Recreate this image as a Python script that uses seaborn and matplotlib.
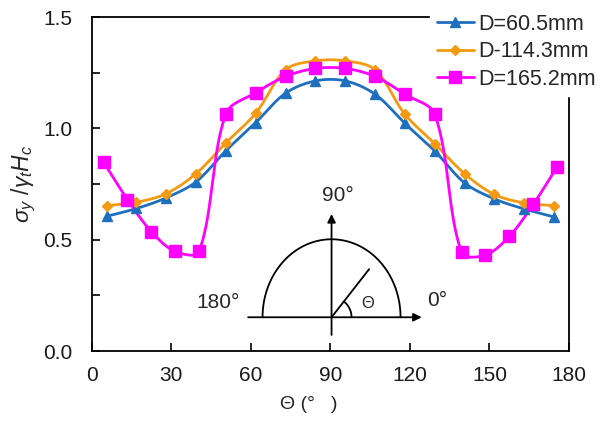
import numpy as np
import pandas as pd
import seaborn as sns
import matplotlib
matplotlib.use("Agg")
import matplotlib.pyplot as plt
from matplotlib.lines import Line2D

# ---------------- data ----------------
theta_a = [5.625, 16.875, 28.125, 39.375, 50.625, 61.875, 73.125, 84.375,
           95.625, 106.875, 118.125, 129.375, 140.625, 151.875, 163.125, 174.375]
d60 = [0.605, 0.640, 0.688, 0.760, 0.900, 1.026, 1.158, 1.213,
       1.213, 1.153, 1.022, 0.898, 0.755, 0.683, 0.638, 0.602]
d114 = [0.653, 0.668, 0.707, 0.797, 0.935, 1.068, 1.263, 1.303,
        1.303, 1.263, 1.063, 0.931, 0.796, 0.703, 0.665, 0.653]
theta_b = [4.5, 13.5, 22.5, 31.5, 40.5, 50.625, 61.875, 73.125, 84.375,
           95.625, 106.875, 118.125, 129.375, 139.5, 148.5, 157.5, 166.5, 175.5]
d165 = [0.848, 0.680, 0.536, 0.447, 0.447, 1.066, 1.160, 1.233, 1.269,
        1.269, 1.233, 1.153, 1.063, 0.443, 0.431, 0.515, 0.658, 0.827]

labels = ["D=60.5mm", "D-114.3mm", "D=165.2mm"]
colors = ["#1F6FBF", "#F39A12", "#FF00FF"]
markers = ["^", "D", "s"]
msizes = [7.5, 5.5, 8.5]

xticks = [0, 30, 60, 90, 120, 150, 180]
yticks_major = [0.0, 0.5, 1.0, 1.5]

# ---------------- style ----------------
sns.set_theme(style="white")
plt.rcParams["font.family"] = ["Liberation Sans", "DejaVu Sans"]
plt.rcParams["mathtext.fontset"] = "custom"
plt.rcParams["mathtext.rm"] = "Liberation Sans"
plt.rcParams["mathtext.it"] = "Liberation Sans:italic"
plt.rcParams["mathtext.sf"] = "Liberation Sans"


def smooth(x, y, n=40):
    """Chord-length weighted Bezier smoothing (like spreadsheet smoothed lines)."""
    x = np.asarray(x, float)
    y = np.asarray(y, float)
    sx, sy = 478 / 180.0, 334 / 1.5
    P = np.column_stack([x * sx, y * sy])
    P = np.vstack([P[0], P, P[-1]])
    out = []
    for i in range(1, len(P) - 2):
        p0, p1, p2, p3 = P[i - 1], P[i], P[i + 1], P[i + 2]
        d01 = np.linalg.norm(p1 - p0)
        d12 = np.linalg.norm(p2 - p1)
        d23 = np.linalg.norm(p3 - p2)
        f1 = d12 / (d01 + d12) / 3.0 if d01 > 0 else 1 / 6.0
        f2 = d12 / (d12 + d23) / 3.0 if d23 > 0 else 1 / 6.0
        c1 = p1 + (p2 - p0) * f1
        c2 = p2 - (p3 - p1) * f2
        t = np.linspace(0, 1, n, endpoint=(i == len(P) - 3))[:, None]
        seg = ((1 - t) ** 3) * p1 + 3 * ((1 - t) ** 2) * t * c1 + 3 * (1 - t) * t ** 2 * c2 + t ** 3 * p2
        out.append(seg)
    out = np.vstack(out)
    return out[:, 0] / sx, out[:, 1] / sy


fig = plt.figure(figsize=(6.10, 4.23), dpi=100)
ax = fig.add_axes([91.7 / 610, 1 - 351 / 423, 477.3 / 610, 334 / 423])

series = [(theta_a, d60), (theta_a, d114), (theta_b, d165)]
for (xs, ys), c, m, ms, lab in zip(series, colors, markers, msizes, labels):
    sx_, sy_ = smooth(xs, ys)
    sns.lineplot(x=sx_, y=sy_, ax=ax, color=c, lw=2.0, sort=False,
                 estimator=None, legend=False)
    df = pd.DataFrame({"x": xs, "y": ys})
    ax.plot(df["x"], df["y"], linestyle="none", marker=m, markersize=ms,
            color=c, markeredgecolor=c, zorder=5)

ax.set_xlim(0, 180)
ax.set_ylim(0, 1.5)
ax.set_xticks(xticks)
ax.set_xticklabels([str(v) for v in xticks])
yt = np.arange(0, 1.51, 0.25)
ax.set_yticks(yt)
ax.set_yticklabels(["%.1f" % v if v in yticks_major else "" for v in yt])
ax.tick_params(axis="both", direction="in", length=6, width=1.2, color="black",
               labelsize=15, labelcolor="#1a1a1a")
ax.tick_params(axis="y", pad=14, left=True)
ax.tick_params(axis="x", pad=11, bottom=True)
for s in ax.spines.values():
    s.set_color("black")
    s.set_linewidth(1.3)

ax.set_ylabel(r"$\sigma_y\ /\gamma_t H_c$", fontsize=16.5)
ax.yaxis.set_label_coords(-0.113, 0.5)
ax.set_xlabel("Θ (°   )", fontsize=14)
ax.xaxis.set_label_coords(0.455, -0.135)

# ---------------- inset diagram (axes fraction) ----------------
T = ax.transAxes
cx, cy = 0.5025, 0.101
W, H = 477.3, 334.0
t = np.linspace(0, np.pi, 200)
ax.plot(cx + 69 * np.cos(t) / W, cy + 78 * np.sin(t) / H, color="black", lw=1.3, transform=T)
ax.annotate("", xy=(0.6914, cy), xytext=(0.3277, cy), xycoords=T, textcoords=T,
            arrowprops=dict(arrowstyle="-|>", color="black", lw=1.3, mutation_scale=12,
                            shrinkA=0, shrinkB=0))
ax.annotate("", xy=(cx, 0.41), xytext=(cx, 0.048), xycoords=T, textcoords=T,
            arrowprops=dict(arrowstyle="-|>", color="black", lw=1.3, mutation_scale=12,
                            shrinkA=0, shrinkB=0))
ang = np.deg2rad(52)
ax.plot([cx, cx + 61 * np.cos(ang) / W], [cy, cy + 61 * np.sin(ang) / H],
        color="black", lw=1.3, transform=T)
ta = np.linspace(0, ang, 50)
ax.plot(cx + 20 * np.cos(ta) / W, cy + 20 * np.sin(ta) / H, color="black", lw=1.3, transform=T)
ax.text(0.516, 0.466, "90°", transform=T, fontsize=15, ha="center", va="center")
ax.text(0.265, 0.146, "180°", transform=T, fontsize=15, ha="center", va="center")
ax.text(0.702, 0.150, "0°", transform=T, fontsize=15, ha="left", va="center")
ax.text(0.578, 0.143, "Θ", transform=T, fontsize=12, ha="center", va="center")

# ---------------- legend ----------------
handles = [Line2D([0], [0], color=c, lw=2.0, marker=m, markersize=ms, markeredgecolor=c)
           for c, m, ms in zip(colors, markers, msizes)]
leg = fig.legend(handles, labels, loc="upper right", bbox_to_anchor=(1.0, 1.0),
                 fontsize=15.5, frameon=True, facecolor="white", edgecolor="white",
                 framealpha=1.0, handlelength=1.75, handletextpad=0.2,
                 labelspacing=0.3, borderpad=0.3, borderaxespad=0.35, fancybox=False)
leg.set_zorder(10)

fig.savefig("out.png", dpi=100)
